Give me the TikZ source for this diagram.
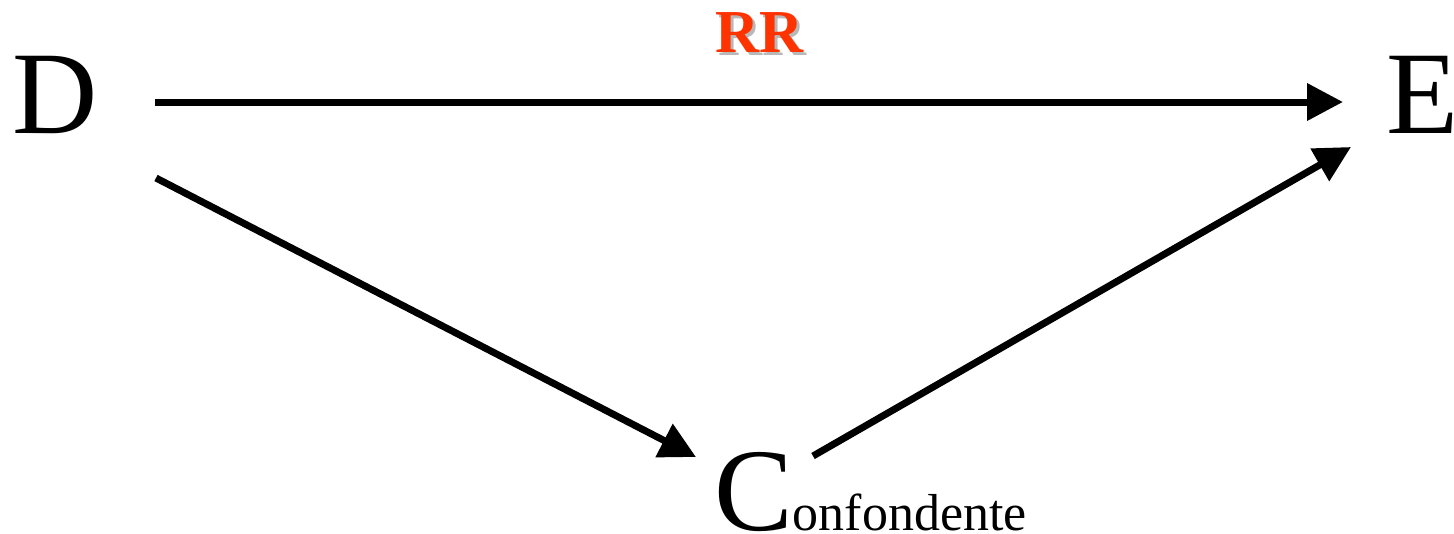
\documentclass[tikz,border=0pt]{standalone}
\usepackage{fontspec}
\setmainfont{Liberation Serif}
\usetikzlibrary{arrows.meta}
\definecolor{rrred}{HTML}{FF3300}
\definecolor{rrshadow}{HTML}{B8B8B8}
\tikzset{
  big/.style={inner sep=0pt, font=\fontsize{118}{120}\selectfont},
  arr/.style={line width=7pt, -{Triangle[length=36pt,width=36pt]}},
  rrlabel/.style={inner sep=0pt, font=\bfseries\fontsize{61}{62}\selectfont}
}
\begin{document}
\begin{tikzpicture}[x=1pt,y=-1pt]
  \useasboundingbox (0,0) rectangle (1454,533);
  % variable labels
  \node[big, anchor=base west] (D) at (12,133) {D};
  \node[big, anchor=base west] (E) at (1386,133) {E};
  \node[big, anchor=base west] (C) at (714,530) {C\fontsize{52}{54}\selectfont onfondente};
  % connector end points
  \coordinate (d1) at (155,102);
  \coordinate (e1) at (1343,102);
  \coordinate (d2) at (156,178);
  \coordinate (c1) at (696,457);
  \coordinate (c2) at (813,456);
  \coordinate (e2) at (1351,147);
  \draw[arr] (d1) -- (e1);
  \draw[arr] (d2) -- (c1);
  \draw[arr] (c2) -- (e2);
  % effect label with drop shadow
  \node[rrlabel, text=rrshadow, anchor=base west] at (718,55) {RR};
  \node[rrlabel, text=rrred, anchor=base west] (RR) at (715,52) {RR};
\end{tikzpicture}
\end{document}
